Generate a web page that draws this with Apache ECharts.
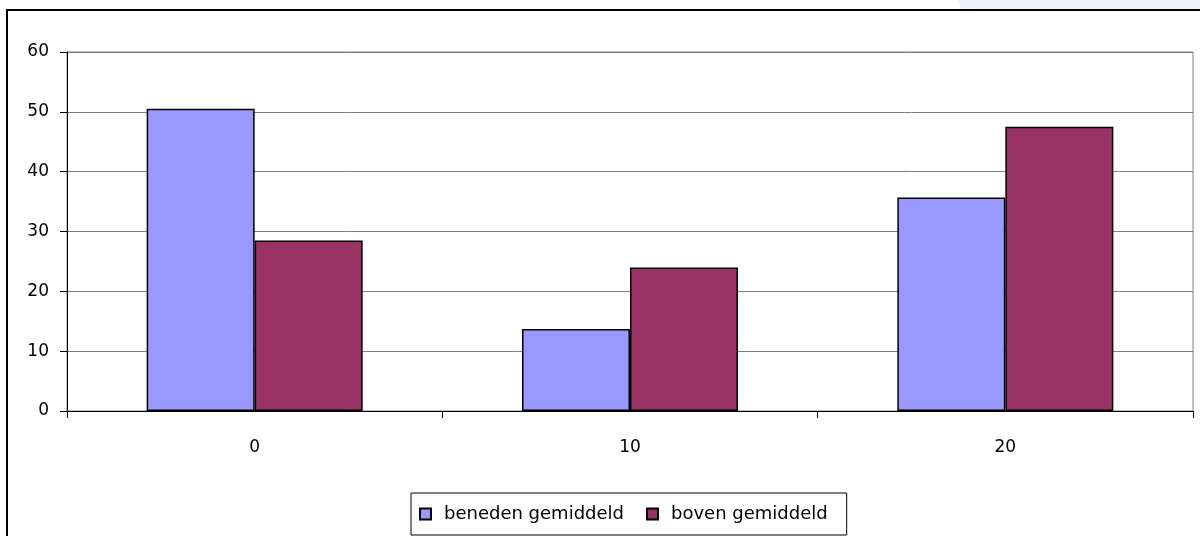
<!DOCTYPE html>
<html>
<head>
<meta charset="utf-8">
<script src="https://cdn.jsdelivr.net/npm/echarts@6/dist/echarts.min.js"></script>
<style>
html,body{margin:0;padding:0;background:#fff;}
#chart{width:1200px;height:536px;}
</style>
</head>
<body>
<div id="chart"></div>
<script>
const categories = ['0', '10', '20'];
const seriesNames = ['beneden gemiddeld', 'boven gemiddeld'];
const beneden = [50.5, 13.7, 35.7];
const boven = [28.5, 24.0, 47.5];
const yTicks = [0, 10, 20, 30, 40, 50, 60];

const chart = echarts.init(document.getElementById('chart'));
const font = 'DejaVu Sans';
chart.setOption({
  animation: false,
  backgroundColor: '#ffffff',
  graphic: [
    { type: 'polygon', shape: { points: [[957,0],[1200,0],[1200,9],[962,9]] }, style: { fill: '#eef2fb' }, silent: true },
    { type: 'rect', shape: { x: 7, y: 10, width: 1400, height: 800 }, style: { fill: null, stroke: '#000', lineWidth: 2 }, silent: true }
  ],
  grid: {
    left: 67, right: 7, top: 52, bottom: 125,
    show: true, borderColor: '#808080', borderWidth: 1
  },
  legend: {
    data: seriesNames,
    left: 411, top: 493,
    orient: 'horizontal',
    backgroundColor: '#fff',
    borderColor: '#000', borderWidth: 1, borderRadius: 0,
    padding: [12, 19, 12, 8],
    itemWidth: 11, itemHeight: 11, itemGap: 22,
    icon: 'rect',
    textStyle: { fontFamily: font, fontSize: 18, color: '#000', padding: [0, 0, 0, 8] }
  },
  xAxis: {
    type: 'category',
    data: categories,
    axisLine: { lineStyle: { color: '#000', width: 1 } },
    axisTick: { show: true, length: 7, lineStyle: { color: '#000' } },
    axisLabel: { fontFamily: font, fontSize: 17, color: '#000', margin: 28 },
    splitLine: { show: false }
  },
  yAxis: {
    type: 'value',
    min: 0, max: 60, interval: 10,
    axisLine: { show: true, lineStyle: { color: '#000', width: 1 } },
    axisTick: { show: true, length: 7, lineStyle: { color: '#000' } },
    axisLabel: { fontFamily: font, fontSize: 17, color: '#000', margin: 18,
      formatter: v => yTicks.includes(v) ? String(v) : '' },
    splitLine: { show: true, lineStyle: { color: '#808080', width: 1 } }
  },
  series: [
    { name: seriesNames[0], type: 'bar', data: beneden, barWidth: 108, barGap: '0%',
      itemStyle: { color: '#9999ff', borderColor: '#000', borderWidth: 1.5 } },
    { name: seriesNames[1], type: 'bar', data: boven, barWidth: 108, barGap: '0%',
      itemStyle: { color: '#993366', borderColor: '#000', borderWidth: 1.5 } }
  ]
});
</script>
</body>
</html>
